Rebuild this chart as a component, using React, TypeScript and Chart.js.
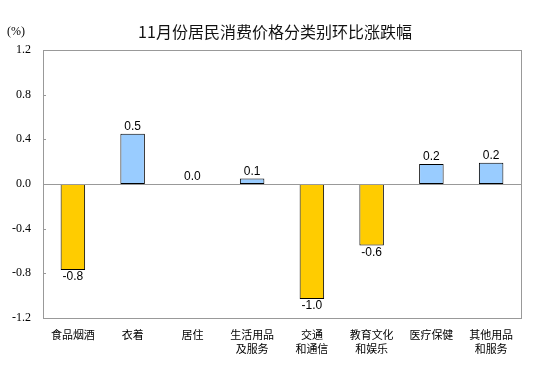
import React, { useEffect, useRef } from "react";
import { Chart, registerables } from "chart.js";

Chart.register(...registerables);

const titleText = "11月份居民消费价格分类别环比涨跌幅";
const unitText = "(%)";
const categories: (string | string[])[] = [
  "食品烟酒",
  "衣着",
  "居住",
  ["生活用品", "及服务"],
  ["交通", "和通信"],
  ["教育文化", "和娱乐"],
  "医疗保健",
  ["其他用品", "和服务"],
];
const values = [-0.77, 0.45, 0.0, 0.05, -1.03, -0.55, 0.18, 0.19];
const valueLabels = ["-0.8", "0.5", "0.0", "0.1", "-1.0", "-0.6", "0.2", "0.2"];
const yMin = -1.2;
const yMax = 1.2;
const yStep = 0.4;

const POS = "#99CCFF";
const NEG = "#FFCC00";
const FRAME = "#999999";

const framePlugin = {
  id: "framePlugin",
  afterDatasetsDraw(chart: any) {
    const { ctx, chartArea } = chart;
    const y = chart.scales.y;
    const meta = chart.getDatasetMeta(0);
    ctx.save();
    // frame
    ctx.strokeStyle = FRAME;
    ctx.lineWidth = 1;
    ctx.strokeRect(
      Math.round(chartArea.left) + 0.5,
      Math.round(chartArea.top) + 0.5,
      Math.round(chartArea.right - chartArea.left),
      Math.round(chartArea.bottom - chartArea.top)
    );
    // zero line
    const y0 = Math.round(y.getPixelForValue(0)) + 0.5;
    ctx.beginPath();
    ctx.moveTo(chartArea.left, y0);
    ctx.lineTo(chartArea.right, y0);
    ctx.stroke();
    // inner tick marks
    for (let v = yMin; v <= yMax + 1e-9; v += yStep) {
      const py = Math.round(y.getPixelForValue(v)) + 0.5;
      ctx.beginPath();
      ctx.moveTo(chartArea.left, py);
      ctx.lineTo(chartArea.left + 3, py);
      ctx.stroke();
    }
    // data labels
    ctx.fillStyle = "#000";
    ctx.font = "12px 'Liberation Sans', Arial, sans-serif";
    ctx.textAlign = "center";
    meta.data.forEach((bar: any, i: number) => {
      const v = values[i];
      const x = bar.x;
      if (v < 0) {
        ctx.textBaseline = "top";
        ctx.fillText(valueLabels[i], x, bar.y + 1);
      } else {
        ctx.textBaseline = "bottom";
        ctx.fillText(valueLabels[i], x, bar.y - 1);
      }
    });
    // title and unit
    ctx.font = "16px 'Noto Sans CJK SC', sans-serif";
    ctx.textBaseline = "middle";
    ctx.textAlign = "center";
    ctx.fillStyle = "#111";
    ctx.fillText(titleText, 275, 32);
    ctx.font = "12px 'Liberation Serif', 'Times New Roman', serif";
    ctx.textAlign = "left";
    ctx.fillStyle = "#000";
    ctx.fillText(unitText, 7, 32);
    ctx.restore();
  },
};

export default function App() {
  const ref = useRef<HTMLCanvasElement>(null);
  useEffect(() => {
    if (!ref.current) return;
    const chart = new Chart(ref.current, {
      type: "bar",
      data: {
        labels: categories,
        datasets: [
          {
            data: values,
            backgroundColor: values.map((v) => (v < 0 ? NEG : POS)),
            borderColor: "#000",
            borderWidth: 1,
            borderSkipped: false,
            categoryPercentage: 1,
            barPercentage: 0.41,
          },
        ],
      },
      options: {
        responsive: false,
        animation: false,
        devicePixelRatio: 1,
        layout: { padding: { top: 50, right: 33, left: 0, bottom: 0 } },
        plugins: {
          legend: { display: false },
          tooltip: { enabled: false },
          title: { display: false },
        },
        scales: {
          x: {
            grid: { display: false, drawTicks: false },
            border: { display: false },
            ticks: {
              color: "#000",
              padding: 10,
              maxRotation: 0,
              autoSkip: false,
              font: { family: "'Noto Sans CJK SC', sans-serif", size: 11, lineHeight: 1.27 },
            },
            afterFit: (s: any) => {
              s.height = 66;
            },
          },
          y: {
            min: yMin,
            max: yMax,
            grid: { display: false, drawTicks: false },
            border: { display: false },
            ticks: {
              stepSize: yStep,
              color: "#000",
              padding: 12,
              font: { family: "'Liberation Serif', 'Times New Roman', serif", size: 12 },
              callback: (v: any) => Number(v).toFixed(1),
            },
            afterFit: (s: any) => {
              s.width = 43;
            },
          },
        },
      },
      plugins: [framePlugin],
    });
    return () => chart.destroy();
  }, []);
  return (
    <div style={{ position: "fixed", left: 0, top: 0, width: 554, height: 384, background: "#fff" }}>
      <canvas ref={ref} width={554} height={384} style={{ width: 554, height: 384 }} />
    </div>
  );
}
